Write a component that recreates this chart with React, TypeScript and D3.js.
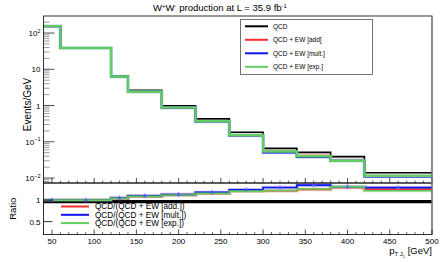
import * as d3 from 'd3';

// bin edges in GeV
const binEdges = [40, 60, 120, 140, 180, 220, 260, 300, 340, 380, 420, 500];

// events / GeV
const qcd = [155, 38.7, 6.6, 2.63, 0.98, 0.43, 0.184, 0.066, 0.051, 0.039, 0.014];
const qcdEwAdd = [155, 38.7, 6.35, 2.41, 0.875, 0.37, 0.152, 0.054, 0.041, 0.030, 0.0112];
const qcdEwMult = [155, 38.7, 6.3, 2.39, 0.87, 0.36, 0.148, 0.051, 0.038, 0.030, 0.011];
const qcdEwExp = [155, 38.7, 6.35, 2.41, 0.875, 0.37, 0.152, 0.054, 0.040, 0.030, 0.0115];

// ratio panel
const ratioAdd = [1.0, 1.0, 1.04, 1.09, 1.12, 1.16, 1.21, 1.22, 1.25, 1.295, 1.25];
const ratioMult = [1.0, 1.0, 1.05, 1.1, 1.13, 1.18, 1.24, 1.295, 1.35, 1.31, 1.29];
const ratioExp = [1.0, 1.0, 1.04, 1.09, 1.12, 1.16, 1.21, 1.225, 1.26, 1.31, 1.22];
const markerX = [50, 90, 130, 160, 200, 240, 280, 320, 360, 400, 460];

const xTicks = [50, 100, 150, 200, 250, 300, 350, 400, 450, 500];
const yDecades = [-2, -1, 0, 1, 2];
const ratioTicks = [0.5, 1];

const topLegend = ['QCD', 'QCD + EW [add]', 'QCD + EW [mult.]', 'QCD + EW [exp.]'];
const ratioLegend = ['QCD/(QCD + EW [add.])', 'QCD/(QCD + EW [mult.])', 'QCD/(QCD + EW [exp.])'];

const colBlack = '#000000';
const colRed = '#ff2a2a';
const colBlue = '#1010f0';
const colGreen = '#5fcf5f';

const font = 'Liberation Sans, Arial, sans-serif';

function App() {
  const width = 441;
  const height = 262;
  const left = 43.5;
  const right = 432;
  const top = 16;
  const mid = 183;
  const bottom = 234.5;

  const x = d3.scaleLinear().domain([40, 500]).range([left, right]);
  const y = d3.scaleLog().domain([0.0073, 295]).range([mid, top]);
  const yr = d3.scaleLinear().domain([0.2, 1.4]).range([bottom, mid]);

  const stepTop = d3
    .line<[number, number]>()
    .x((d) => x(d[0]))
    .y((d) => y(d[1]))
    .curve(d3.curveStepAfter);
  const stepRatio = d3
    .line<[number, number]>()
    .x((d) => x(d[0]))
    .y((d) => yr(d[1]))
    .curve(d3.curveStepAfter);

  const pts = (vals: number[]): [number, number][] => [
    ...vals.map((v, i) => [binEdges[i], v] as [number, number]),
    [binEdges[binEdges.length - 1], vals[vals.length - 1]],
  ];

  // shaded band between QCD and QCD+EW
  const band = d3
    .area<[number, number, number]>()
    .x((d) => x(d[0]))
    .y0((d) => y(d[1]))
    .y1((d) => y(d[2]))
    .curve(d3.curveStepAfter);
  const bandPts: [number, number, number][] = [
    ...qcd.map((v, i) => [binEdges[i], v, qcdEwMult[i]] as [number, number, number]),
    [binEdges[binEdges.length - 1], qcd[qcd.length - 1], qcdEwMult[qcdEwMult.length - 1]],
  ];

  // log ticks
  const majorY = yDecades.map((k) => Math.pow(10, k));
  const minorY: number[] = [];
  for (let k = -3; k <= 2; k++) {
    for (let m = 2; m <= 9; m++) {
      const v = m * Math.pow(10, k);
      if (v > y.domain()[0] && v < y.domain()[1]) minorY.push(v);
    }
  }
  const minorX = d3.range(40, 501, 10).filter((v) => v % 50 !== 0);

  const decadeLabel = (k: number) => {
    if (k === 0) return <tspan>1</tspan>;
    if (k === 1) return <tspan>10</tspan>;
    return (
      <>
        <tspan>10</tspan>
        <tspan dy={-3.5} fontSize={5.5}>
          {k < 0 ? `\u2212${-k}` : k}
        </tspan>
      </>
    );
  };

  const ratioSeries = [
    { vals: ratioAdd, col: colRed },
    { vals: ratioMult, col: colBlue },
    { vals: ratioExp, col: colGreen },
  ];

  return (
    <svg
      width={width}
      height={height}
      style={{ position: 'absolute', left: 0, top: 0, background: '#fff' }}
      fontFamily={font}
    >
      <rect x={0} y={0} width={width} height={height} fill="#fff" />

      {/* title */}
      <text x={220} y={11} textAnchor="middle" fontSize={9.5}>
        W<tspan dy={-3.5} fontSize={6}>+</tspan>
        <tspan dy={3.5}>W</tspan>
        <tspan dy={-3.5} fontSize={6}>-</tspan>
        <tspan dy={3.5}> production at L = 35.9 fb</tspan>
        <tspan dy={-3.5} fontSize={6}>-1</tspan>
      </text>

      {/* top panel */}
      <path d={band(bandPts) ?? ''} fill="#ece4df" />
      <path d={stepTop(pts(qcd)) ?? ''} fill="none" stroke={colBlack} strokeWidth={1.6} />
      <path d={stepTop(pts(qcdEwAdd)) ?? ''} fill="none" stroke={colRed} strokeWidth={2} />
      <path d={stepTop(pts(qcdEwMult)) ?? ''} fill="none" stroke="#aab4ff" strokeWidth={3.5} opacity={0.6} />
      <path d={stepTop(pts(qcdEwMult)) ?? ''} fill="none" stroke={colBlue} strokeWidth={2} />
      <path d={stepTop(pts(qcdEwExp)) ?? ''} fill="none" stroke={colGreen} strokeWidth={2.4} />

      {/* top frame */}
      <rect x={left} y={top} width={right - left} height={mid - top} fill="none" stroke="#000" strokeWidth={0.8} />

      {/* y log ticks */}
      {majorY.map((v) => (
        <line key={`My${v}`} x1={left} x2={left + 11} y1={y(v)} y2={y(v)} stroke="#000" strokeWidth={0.7} />
      ))}
      {minorY.map((v) => (
        <line key={`my${v}`} x1={left} x2={left + 6} y1={y(v)} y2={y(v)} stroke="#555" strokeWidth={0.6} />
      ))}
      {yDecades.map((k) => (
        <text key={`ly${k}`} x={left - 3} y={y(Math.pow(10, k)) + 3} textAnchor="end" fontSize={8}>
          {decadeLabel(k)}
        </text>
      ))}

      {/* x ticks on top panel */}
      {xTicks.map((v) => (
        <line key={`Mx${v}`} x1={x(v)} x2={x(v)} y1={mid} y2={mid - 5} stroke="#000" strokeWidth={0.7} />
      ))}
      {minorX.map((v) => (
        <line key={`mx${v}`} x1={x(v)} x2={x(v)} y1={mid} y2={mid - 2.5} stroke="#000" strokeWidth={0.6} />
      ))}

      <text
        transform={`translate(31,${(top + mid) / 2 + 5}) rotate(-90)`}
        textAnchor="middle"
        fontSize={10}
      >
        Events/GeV
      </text>

      {/* top legend */}
      <rect x={240.5} y={19.5} width={132} height={55} fill="#fff" stroke="#666" strokeWidth={0.9} />
      {topLegend.map((t, i) => {
        const ly = 26.3 + i * 13.5;
        const c = [colBlack, colRed, colBlue, colGreen][i];
        return (
          <g key={t}>
            <line x1={245} x2={268} y1={ly} y2={ly} stroke={c} strokeWidth={2} />
            <text x={273} y={ly + 2.3} fontSize={6.5}>
              {t}
            </text>
          </g>
        );
      })}

      {/* ratio panel */}
      <line x1={left} x2={right} y1={yr(1) + 1.5} y2={yr(1) + 1.5} stroke="#000" strokeWidth={3.2} />
      {ratioSeries.map((s) => (
        <path key={`h${s.col}`} d={stepRatio(pts(s.vals)) ?? ''} fill="none" stroke={s.col} strokeWidth={3.5} opacity={0.25} />
      ))}
      {ratioSeries.map((s) => (
        <path key={s.col} d={stepRatio(pts(s.vals)) ?? ''} fill="none" stroke={s.col} strokeWidth={1.7} />
      ))}
      {markerX.map((v) => {
        const idx = d3.bisectRight(binEdges, v) - 1;
        const cy = yr(ratioMult[idx]);
        return (
          <g key={`mk${v}`}>
            <line x1={x(v)} x2={x(v)} y1={cy - 2.5} y2={cy + 2.5} stroke="#6a6aff" strokeWidth={0.6} />
            <path d={d3.symbol(d3.symbolTriangle, 7)() ?? ''} transform={`translate(${x(v)},${cy})`} fill="#5a5aff" />
          </g>
        );
      })}

      <rect x={left} y={mid} width={right - left} height={bottom - mid} fill="none" stroke="#000" strokeWidth={0.8} />
      <line x1={right} x2={right} y1={top} y2={bottom} stroke="#888" strokeWidth={1.3} />

      {ratioTicks.map((v) => (
        <g key={`rt${v}`}>
          <line x1={left} x2={left + 9} y1={yr(v)} y2={yr(v)} stroke="#000" strokeWidth={0.8} />
          <text x={left - 3} y={yr(v) + 3} textAnchor="end" fontSize={8}>
            {v}
          </text>
        </g>
      ))}

      {/* ratio legend */}
      {ratioLegend.map((t, i) => {
        const ly = 206.5 + i * 8.3;
        const c = [colRed, colBlue, colGreen][i];
        return (
          <g key={t}>
            <line x1={61} x2={89} y1={ly} y2={ly} stroke={c} strokeWidth={2} />
            <text x={95} y={ly + 2.8} fontSize={8.2}>
              {t}
            </text>
          </g>
        );
      })}

      {/* x axis on ratio */}
      {xTicks.map((v) => (
        <g key={`bx${v}`}>
          <line x1={x(v)} x2={x(v)} y1={bottom} y2={bottom - 5} stroke="#000" strokeWidth={0.7} />
          <text x={x(v)} y={243.5} textAnchor="middle" fontSize={8}>
            {v}
          </text>
        </g>
      ))}
      {minorX.map((v) => (
        <line key={`bmx${v}`} x1={x(v)} x2={x(v)} y1={bottom} y2={bottom - 2.5} stroke="#000" strokeWidth={0.6} />
      ))}

      <text transform={`translate(16,${(mid + bottom) / 2}) rotate(-90)`} textAnchor="middle" fontSize={9.5}>
        Ratio
      </text>

      <text x={432} y={253.5} fontSize={9.5} textAnchor="end">
        p
        <tspan dy={2.5} fontSize={6}>T J</tspan>
        <tspan dy={1.5} fontSize={4}>1</tspan>
        <tspan dy={-4} fontSize={9.5}> [GeV]</tspan>
      </text>
    </svg>
  );
}

export default App;
